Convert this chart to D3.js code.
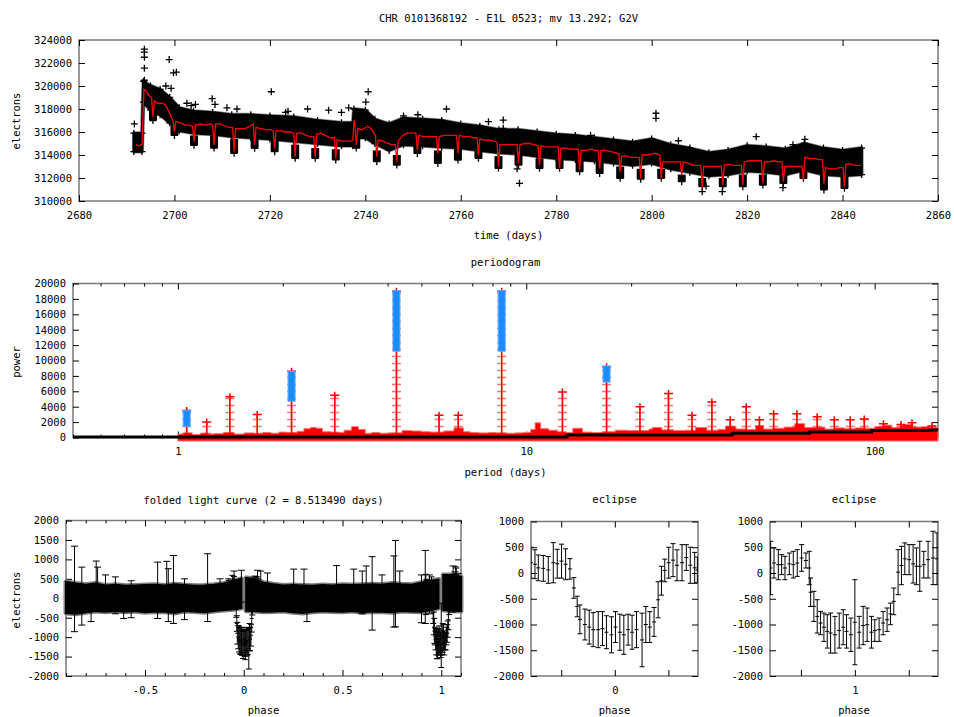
<!DOCTYPE html>
<html lang="en">
<head>
<meta charset="UTF-8">
<title>CHR 0101368192</title>
<script src="https://cdn.jsdelivr.net/npm/d3@7"></script>
<style>
  body { margin: 0; background: #fff; }
  svg text { font-family: "DejaVu Sans Mono", monospace; font-size: 10.5px; fill: #000; }
</style>
</head>
<body>
<svg id="viz" width="954" height="717"></svg>
<script>
// ---------- light curve (top) ----------
var lcTime = [2691.9,2692.5,2693.2,2693.6,2694.0,2694.6,2695.2,2695.5,2695.8,2696.5,2697.3,2698.0,2698.7,2699.3,2699.7,2700.0,2700.3,2701.2,2702.2,2703.1,2703.8,2704.1,2704.4,2705.5,2706.6,2707.5,2708.0,2708.3,2708.6,2709.6,2710.6,2711.5,2712.2,2712.5,2712.8,2713.8,2714.8,2715.8,2716.5,2716.8,2717.1,2718.1,2719.1,2720.1,2720.7,2721.0,2721.3,2722.3,2723.3,2724.3,2725.0,2725.3,2725.6,2726.6,2727.6,2728.5,2729.2,2729.5,2729.8,2730.6,2731.6,2732.6,2733.5,2733.8,2734.1,2735.1,2736.1,2737.0,2737.4,2737.6,2737.8,2738.1,2738.4,2739.3,2740.5,2741.2,2742.1,2742.4,2742.7,2743.7,2744.7,2745.6,2746.3,2746.6,2746.9,2747.8,2748.8,2749.8,2750.6,2750.9,2751.2,2752.2,2753.2,2754.2,2754.9,2755.2,2755.5,2756.5,2757.5,2758.5,2759.1,2759.4,2759.7,2760.7,2761.7,2762.7,2763.4,2763.7,2764.0,2765.0,2766.0,2767.0,2767.6,2767.9,2768.2,2769.2,2770.2,2771.2,2771.8,2772.1,2772.4,2773.4,2774.4,2775.4,2776.2,2776.5,2776.8,2777.8,2778.8,2779.8,2780.4,2780.7,2781.0,2782.0,2783.0,2784.0,2784.6,2784.9,2785.2,2786.2,2787.2,2788.2,2788.8,2789.1,2789.4,2790.4,2791.4,2792.4,2793.1,2793.4,2793.7,2794.7,2795.7,2796.7,2797.4,2797.7,2798.0,2799.0,2800.0,2800.7,2801.7,2802.0,2802.3,2803.3,2804.3,2805.3,2806.0,2806.3,2806.6,2807.6,2808.6,2809.6,2810.3,2810.6,2810.9,2811.9,2812.9,2813.9,2814.6,2814.9,2815.2,2816.2,2817.2,2818.2,2818.8,2819.1,2819.4,2820.4,2821.4,2822.4,2823.0,2823.3,2823.6,2824.6,2825.6,2826.6,2827.3,2827.6,2827.9,2828.9,2829.9,2830.9,2831.5,2831.8,2832.1,2833.1,2834.1,2835.1,2835.8,2836.1,2836.4,2837.4,2838.4,2839.4,2840.1,2840.4,2840.7,2841.7,2842.7,2843.8];
var lcTrend = [314900,314800,314900,319700,319600,319200,319000,317300,318700,318500,318500,318400,317900,317300,317000,316030,316900,316800,316600,316600,316500,315160,316600,316700,316600,316700,316600,314870,316700,316700,316500,316400,316400,314290,316300,316300,316300,316500,316700,314870,316400,316300,316200,316200,316100,314580,316100,316100,316000,316000,315900,313860,315900,315900,315700,315600,315600,313860,315800,315900,315700,315500,315500,313710,315300,315200,315200,315200,315300,317000,316800,314870,316300,316200,316500,316300,315700,313850,315300,315200,315000,314900,314900,313420,315200,315700,315900,315900,315900,314430,315700,315600,315600,315600,315600,314145,315600,315700,315700,315700,315700,314145,315700,315600,315600,315500,315500,314000,315400,315300,315300,315200,315100,312985,314900,314900,314900,314900,314900,313275,314900,315000,315000,314900,314800,313130,314800,314700,314700,314700,314700,312840,314600,314600,314500,314500,314500,312700,314400,314400,314500,314400,314400,312840,314400,314400,314300,314200,314100,312550,313900,313900,313800,313800,313800,311970,314000,314000,314100,314150,314000,311970,313400,313400,313400,313400,313400,312260,313400,313300,313100,313100,313100,311100,313000,313000,313000,313000,313000,311390,313100,313200,313100,313100,313100,311390,313400,313500,313500,313500,313500,311535,313400,313400,313500,313400,313400,311680,313000,313000,313000,313000,313000,311826,313800,313700,313700,313600,313600,311535,312900,312800,312800,312900,312900,311250,313200,313200,313100,313100];

var bandTime = [2691.5,2693.2,2693.5,2695,2697,2699,2701,2704,2708,2712,2716,2720,2725,2730,2735,2737.4,2737.6,2740,2742,2745,2748,2752,2756,2760,2764,2768,2772,2776,2780,2784,2788,2792,2796,2800,2804,2808,2812,2816,2820,2824,2828,2832,2836,2840,2844];
var bandTop  = [315900,315900,320400,320000,319700,319000,318100,317800,317700,317500,317500,317400,317300,317000,316800,316800,318000,317900,317100,316700,317200,317100,317000,316700,316500,316200,316200,316000,315800,315700,315500,315300,315100,315400,314900,314600,314200,314400,314800,314700,314500,315000,314600,314400,314600];
var bandBot  = [314300,314300,318600,317900,317500,316800,316100,315900,315800,315600,315500,315400,315200,315000,314800,314800,315500,315500,315000,314400,314900,314800,314700,314600,314400,314200,314100,313900,313700,313600,313500,313300,313100,313300,312800,312500,312200,312300,312600,312500,312300,312700,312300,312200,312300];

var dipTime = [2695.5,2700.0,2704.1,2708.3,2712.5,2716.8,2721.0,2725.3,2729.5,2733.8,2738.1,2742.4,2746.6,2750.9,2755.2,2759.4,2763.7,2767.9,2772.1,2776.5,2780.7,2784.9,2789.1,2793.4,2797.7,2802.0,2806.3,2810.6,2814.9,2819.1,2823.3,2827.6,2831.8,2836.1,2840.4];
var dipLow  = [317000,315700,314850,314600,314150,314580,314290,313710,313710,313570,314600,313420,313130,314140,313270,313560,313710,312840,313130,312840,312840,312550,312400,311970,311900,311970,311680,311250,311250,311250,311390,311535,311970,310960,311100];
var dipHigh = [317900,316500,315700,315700,315400,315600,315300,314900,314600,314500,315500,314400,314000,315000,314400,314600,314800,313900,314000,313700,313700,313500,313400,313000,312800,312800,312300,312000,312000,312300,312300,312600,312800,312400,312300];

var outTime = [2691.6,2693.7,2693.7,2693.7,2693.7,2693.7,2698.2,2698.9,2699.3,2699.8,2700.4,2702.6,2703.5,2704.4,2707.9,2708.5,2711.0,2713.1,2720.3,2723.3,2723.8,2727.9,2732.3,2735.0,2736.5,2740.1,2740.6,2748.0,2751.0,2757.0,2765.8,2768.9,2768.9,2771.8,2772.3,2787.2,2800.9,2800.9,2805.6,2810.6,2811.4,2814.8,2821.9,2827.5,2832.1,2829.6];
var outFlux = [316700,323200,322950,322500,321550,320500,320000,322300,319800,321150,321200,318500,318300,318400,318900,318400,318100,318000,319500,317700,317800,318000,317900,317700,318100,318600,319500,317400,317500,318000,316900,317040,316320,312800,311540,315700,317630,317190,315240,310810,311300,310810,315590,311160,315360,314900];

// ---------- periodogram (middle) ----------
var noisePeriod = [1.00,1.04,1.10,1.16,1.22,1.27,1.35,1.45,1.55,1.65,1.75,1.85,1.95,2.05,2.2,2.3,2.4,2.5,2.6,2.75,2.9,3.0,3.15,3.3,3.45,3.6,3.8,4.0,4.4,4.7,5.0,5.3,5.8,6.2,6.6,6.9,7.3,7.8,8.2,8.8,9.3,9.8,10.3,10.6,11.0,11.6,12.3,13.0,13.6,14.5,15.5,16.5,18,19.5,21,22.5,23,24.5,26.5,28.5,30.6,33,35.5,37.3,40,43,45.5,48,51,55,59,63,68,72,77,82,88,94,100,106,112,120,128,136,144,152];
var noisePower  = [450,600,400,550,450,500,650,450,600,500,650,550,700,650,800,1150,1300,1200,750,700,650,950,1400,1050,550,650,550,600,900,850,750,700,850,1250,750,650,600,650,600,550,600,650,1050,1900,1150,950,750,650,1200,700,650,750,950,900,900,1100,1300,1000,900,950,1300,950,1050,1450,1100,1050,1550,1100,1200,1350,1800,1300,1350,1100,1250,1150,1250,1200,1400,1600,1300,1700,1350,1400,1300,1350];

var peakPeriod = [1.06,1.21,1.41,1.69,2.12,2.82,4.24,5.62,6.38,8.50,12.7,17.0,21.2,25.6,29.9,34.1,38.5,42.8,46.7,51.3,59.8,68.4,76.6,85.1,93.4,106,119,128,146];
var peakPower  = [3500,2000,5300,3000,8600,5500,19000,2900,2900,19000,5900,9200,4000,5700,2900,4600,2300,4000,2300,3100,3100,2700,2300,2300,2400,1800,1700,1900,1500];

var bluePeriod = [1.06,2.12,4.24,8.50,17.0];
var blueLow    = [1450,4700,11200,11200,7200];
var blueHigh   = [3550,8600,19100,19100,9300];

var sigPeriod = [0.5,13.1,13.1,39,39,65,65,98,98,140,152];
var sigPower  = [60,60,330,330,550,550,700,700,900,900,1000];

// ---------- folded light curve (bottom left) ----------
var foldPhase = [-0.9,-0.85,-0.8,-0.75,-0.7,-0.65,-0.6,-0.55,-0.5,-0.45,-0.4,-0.35,-0.3,-0.25,-0.2,-0.15,-0.1,-0.05,-0.012,0,0.012,0.05,0.1,0.15,0.2,0.25,0.3,0.35,0.4,0.45,0.5,0.55,0.6,0.65,0.7,0.75,0.8,0.85,0.9,0.95,0.986,1,1.01,1.05,1.1];
var foldHigh  = [420,380,350,380,330,350,320,330,340,350,330,360,340,320,330,350,380,450,500,null,520,500,400,360,330,340,330,320,340,330,350,340,350,360,350,380,360,350,400,450,480,null,600,600,550];
var foldLow   = [-380,-400,-360,-330,-350,-330,-350,-330,-360,-340,-350,-380,-330,-340,-360,-330,-300,-280,-250,null,-320,-330,-350,-340,-330,-360,-380,-350,-330,-340,-350,-330,-360,-340,-350,-360,-330,-340,-350,-300,-250,null,-300,-320,-330];

var spikePhase = [-0.857,-0.82,-0.773,-0.747,-0.74,-0.70,-0.65,-0.608,-0.57,-0.436,-0.39,-0.382,-0.356,-0.30,-0.183,-0.12,-0.049,-0.012,0.07,0.086,0.12,0.253,0.305,0.32,0.47,0.557,0.60,0.62,0.65,0.70,0.76,0.768,0.79,0.90,0.919,0.94,1.06,1.07,1.088];
var spikeLow   = [-860,-690,-600,200,-100,-200,-400,-520,-500,-521,-200,-600,-650,-550,-600,-300,-150,-100,-200,-150,-300,-200,-150,-600,-100,-300,-400,-200,-820,-300,-740,-735,-300,-630,-650,-400,-300,-100,-150];
var spikeHigh  = [1340,800,300,957,800,600,550,300,450,930,950,760,1100,500,1145,500,700,720,720,700,650,750,750,300,840,750,700,830,1070,600,1090,1487,700,600,1230,600,830,680,640];

// ---------- eclipses (bottom middle / right) ----------
var ecl0Phase = [-0.0782,-0.0745,-0.0714,-0.0667,-0.0621,-0.0574,-0.0537,-0.0497,-0.0459,-0.0419,-0.0382,-0.0351,-0.0326,-0.0279,-0.0239,-0.0202,-0.0155,-0.0115,-0.0078,-0.0031,0.0006,0.0047,0.0084,0.0124,0.0161,0.0202,0.0254,0.0289,0.0326,0.0366,0.0404,0.0435,0.0466,0.0503,0.0543,0.0580,0.0627,0.0667,0.0704,0.0745,0.0770];
var ecl0Flux  = [200,170,100,90,60,200,180,230,170,80,-290,-650,-900,-1000,-1050,-1100,-1100,-1080,-1150,-1200,-1050,-1150,-1200,-1100,-1150,-1100,-1300,-1000,-1050,-950,-520,-150,50,200,250,150,200,300,150,100,60];
var ecl0Err   = [300,280,250,250,260,390,280,330,300,200,200,200,280,300,330,330,350,330,320,350,300,350,380,300,330,350,520,350,300,280,350,280,220,300,320,300,350,250,350,300,250];

var ecl1Phase = [0.9219,0.925,0.929,0.9321,0.9352,0.9392,0.9429,0.9466,0.9506,0.9546,0.9577,0.959,0.962,0.9651,0.9682,0.9713,0.9744,0.9775,0.9815,0.9855,0.9892,0.9923,0.9963,1.0,1.004,1.0077,1.0114,1.0154,1.0185,1.0225,1.0262,1.0299,1.033,1.0361,1.0401,1.0432,1.0463,1.0503,1.054,1.0571,1.0602,1.0639,1.0679,1.0725,1.0762];
var ecl1Flux  = [97,195,162,162,97,178,162,194,292,243,97,-373,-648,-842,-972,-1053,-1134,-1166,-1199,-1118,-1053,-1134,-1199,-956,-1150,-1020,-1004,-1150,-1118,-1101,-972,-907,-794,-551,16,146,276,259,178,130,130,162,259,292,276];
var ecl1Err   = [518,292,292,194,227,210,259,259,259,146,324,276,292,324,227,275,324,389,356,340,340,324,324,826,308,372,324,308,210,227,227,227,210,259,437,373,308,292,373,357,486,259,356,518,502];

// ---------- layout ----------
var TOP  = {l: 79, t: 40,    r: 938, b: 201};
var MID  = {l: 73, t: 283.5, r: 938, b: 437.5};
var FOLD = {l: 66, t: 520.5, r: 461, b: 676};
var EC0  = {l: 531, t: 521.5, r: 698, b: 676};
var EC1  = {l: 770, t: 521.5, r: 938, b: 676};

var svg = d3.select("#viz");
var plus = "M-3.5,0H3.5M0,-3.5V3.5";
var str = function(d) { return String(d); };

function frame(g, box, x, y, o) {
  g.append("rect")
    .attr("x", box.l).attr("y", box.t)
    .attr("width", box.r - box.l).attr("height", box.b - box.t)
    .attr("fill", "none").attr("stroke", "#7a7a7a").attr("stroke-width", 1.5);
  var ax = g.append("g");
  ax.append("g").attr("transform", "translate(0," + box.b + ")")
    .call(d3.axisBottom(x).tickValues(o.xMajor).tickSize(-6).tickPadding(10.5).tickFormat(o.xFmt || str));
  ax.append("g").attr("transform", "translate(0," + box.t + ")")
    .call(d3.axisTop(x).tickValues(o.xMajor).tickSize(-6).tickFormat(""));
  if (o.xMinor) {
    ax.append("g").attr("transform", "translate(0," + box.b + ")")
      .call(d3.axisBottom(x).tickValues(o.xMinor).tickSize(-3).tickFormat(""));
    ax.append("g").attr("transform", "translate(0," + box.t + ")")
      .call(d3.axisTop(x).tickValues(o.xMinor).tickSize(-3).tickFormat(""));
  }
  ax.append("g").attr("transform", "translate(" + box.l + ",0)")
    .call(d3.axisLeft(y).tickValues(o.yMajor).tickSize(-6).tickPadding(7).tickFormat(str));
  ax.append("g").attr("transform", "translate(" + box.r + ",0)")
    .call(d3.axisRight(y).tickValues(o.yMajor).tickSize(-6).tickFormat(""));
  ax.selectAll(".domain").remove();
  ax.selectAll("g").attr("font-family", null).attr("font-size", null);
}

function title(txt, x, y) {
  svg.append("text").attr("x", x).attr("y", y).attr("text-anchor", "middle").text(txt);
}
function ylabel(txt, x, y) {
  svg.append("text").attr("transform", "translate(" + x + "," + y + ") rotate(-90)")
    .attr("text-anchor", "middle").text(txt);
}

function clip(id, box) {
  svg.append("clipPath").attr("id", id).append("rect")
    .attr("x", box.l).attr("y", box.t).attr("width", box.r - box.l).attr("height", box.b - box.t);
}

function errorBars(g, x, y, rows, cap) {
  var eb = g.append("g").attr("stroke", "#000").attr("stroke-width", 1).attr("fill", "none");
  eb.selectAll("path").data(rows).enter().append("path")
    .attr("d", function(d) {
      var cx = x(d.p), y1 = y(d.hi), y0 = y(d.lo), y2 = y(d.v);
      var s = "M" + cx + "," + y1 + "V" + y0 +
              "M" + (cx - cap) + "," + y1 + "H" + (cx + cap) +
              "M" + (cx - cap) + "," + y0 + "H" + (cx + cap);
      if (d.v != null) s += "M" + (cx - 2) + "," + y2 + "H" + (cx + 2);
      return s;
    });
}

// ================= top: light curve =================
var xT = d3.scaleLinear().domain([2680, 2860]).range([TOP.l, TOP.r]);
var yT = d3.scaleLinear().domain([310000, 324000]).range([TOP.b, TOP.t]);
var gT = svg.append("g");
frame(gT, TOP, xT, yT, {xMajor: d3.range(2680, 2861, 20), yMajor: d3.range(310000, 324001, 2000)});

var bandRows = bandTime.map(function(t, i) { return {t: t, hi: bandTop[i], lo: bandBot[i]}; });
var bandArea = d3.area().x(function(d) { return xT(d.t); })
  .y0(function(d) { return yT(d.lo); }).y1(function(d) { return yT(d.hi); });
gT.append("path").datum(bandRows).attr("d", bandArea)
  .attr("fill", "#555").attr("stroke", "#8a8a8a").attr("stroke-width", 4).attr("stroke-linejoin", "round");
gT.append("path").datum(bandRows).attr("d", bandArea)
  .attr("fill", "#000").attr("stroke", "#000").attr("stroke-width", 2.5).attr("stroke-linejoin", "round");

var edgePts = [];
bandRows.forEach(function(d) { edgePts.push({t: d.t, v: d.hi}); edgePts.push({t: d.t, v: d.lo}); });
gT.append("g").selectAll("path").data(edgePts).enter().append("path")
  .attr("d", plus).attr("transform", function(d) { return "translate(" + xT(d.t) + "," + yT(d.v) + ")"; })
  .attr("stroke", "#000").attr("stroke-width", 1.3);

var dipRows = dipTime.map(function(t, i) { return {t: t, lo: dipLow[i], hi: dipHigh[i]}; });
var clumps = gT.append("g");
clumps.selectAll("rect").data(dipRows).enter().append("rect")
  .attr("x", function(d) { return xT(d.t) - 4; })
  .attr("y", function(d) { return yT(d.hi); })
  .attr("width", 8)
  .attr("height", function(d) { return yT(d.lo) - yT(d.hi); })
  .attr("fill", "#000");
clumps.selectAll("path").data(dipRows).enter().append("path")
  .attr("d", plus).attr("transform", function(d) { return "translate(" + xT(d.t) + "," + yT(d.lo) + ")"; })
  .attr("stroke", "#000").attr("stroke-width", 1.3);

gT.append("g").selectAll("path").data(outTime.map(function(t, i) { return {t: t, v: outFlux[i]}; }))
  .enter().append("path")
  .attr("d", plus).attr("transform", function(d) { return "translate(" + xT(d.t) + "," + yT(d.v) + ")"; })
  .attr("stroke", "#000").attr("stroke-width", 1.3);

var trendRows = lcTime.map(function(t, i) { return {t: t, v: lcTrend[i]}; });
gT.append("path").datum(trendRows)
  .attr("d", d3.line().x(function(d) { return xT(d.t); }).y(function(d) { return yT(d.v); }))
  .attr("fill", "none").attr("stroke", "#ff0000").attr("stroke-width", 1.3);

title("CHR 0101368192 - E1L 0523; mv 13.292; G2V", (TOP.l + TOP.r) / 2, 22);
title("time (days)", (TOP.l + TOP.r) / 2, 239);
ylabel("electrons", 19.5, 121);

// ================= middle: periodogram =================
var xM = d3.scaleLog().domain([0.5, 152]).range([MID.l, MID.r]);
var yM = d3.scaleLinear().domain([0, 20000]).range([MID.b, MID.t]);
var gM = svg.append("g");
var majorM = [1, 10, 100];
frame(gM, MID, xM, yM, {
  xMajor: majorM,
  xMinor: xM.ticks().filter(function(d) { return majorM.indexOf(d) < 0; }),
  yMajor: d3.range(0, 20001, 2000)
});

var noiseRows = noisePeriod.map(function(p, i) { return {p: p, v: noisePower[i]}; });
gM.append("path").datum(noiseRows)
  .attr("d", d3.area().curve(d3.curveStepAfter)
    .x(function(d) { return xM(d.p); })
    .y0(yM(0) + 3.5).y1(function(d) { return yM(d.v); }))
  .attr("fill", "#ff0000").attr("stroke", "#ff7070").attr("stroke-width", 1);

var peakRows = peakPeriod.map(function(p, i) { return {p: p, v: peakPower[i]}; });
var stacks = gM.append("g");
var stackPlus = "M-4.5,0H4.5M0,-3.5V3.5";
peakRows.forEach(function(d) {
  var cx = xM(d.p), top = yM(d.v);
  stacks.append("line").attr("x1", cx).attr("x2", cx).attr("y1", yM(0)).attr("y2", top)
    .attr("stroke", "#ff0000").attr("stroke-width", 1.5);
  for (var s = yM(0) - 4; s >= top; s -= 7) {
    stacks.append("path").attr("d", stackPlus)
      .attr("transform", "translate(" + cx + "," + s + ")")
      .attr("stroke", "#ff0000").attr("stroke-width", 1.5).attr("opacity", 0.55);
  }
  stacks.append("path").attr("d", stackPlus)
    .attr("transform", "translate(" + cx + "," + top + ")")
    .attr("stroke", "#ff0000").attr("stroke-width", 1.5);
});

var blueRows = bluePeriod.map(function(p, i) { return {p: p, lo: blueLow[i], hi: blueHigh[i]}; });
gM.append("g").selectAll("rect").data(blueRows).enter().append("rect")
  .attr("x", function(d) { return xM(d.p) - 3.5; })
  .attr("y", function(d) { return yM(d.hi); })
  .attr("width", 7)
  .attr("height", function(d) { return yM(d.lo) - yM(d.hi); })
  .attr("fill", "#1a8cff").attr("stroke", "#5aaaff").attr("stroke-width", 1);

var sigRows = sigPeriod.map(function(p, i) { return {p: p, v: sigPower[i]}; });
gM.append("path").datum(sigRows)
  .attr("d", d3.line().x(function(d) { return xM(d.p); }).y(function(d) { return yM(d.v); }))
  .attr("fill", "none").attr("stroke", "#000").attr("stroke-width", 3);

title("periodogram", (MID.l + MID.r) / 2, 266);
title("period (days)", (MID.l + MID.r) / 2, 476);
ylabel("power", 19.5, 362);

// ================= bottom left: folded light curve =================
var xF = d3.scaleLinear().domain([-0.9, 1.1]).range([FOLD.l, FOLD.r]);
var yF = d3.scaleLinear().domain([-2000, 2000]).range([FOLD.b, FOLD.t]);
var gF = svg.append("g");
var majorF = [-0.5, 0, 0.5, 1];
frame(gF, FOLD, xF, yF, {
  xMajor: majorF,
  xMinor: d3.range(-9, 12).map(function(i) { return i / 10; }).filter(function(d) { return d % 0.5 !== 0; }),
  yMajor: d3.range(-2000, 2001, 500)
});

var foldRows = foldPhase.map(function(p, i) { return {p: p, hi: foldHigh[i], lo: foldLow[i]}; });
var foldArea = d3.area().defined(function(d) { return d.hi != null; })
  .x(function(d) { return xF(d.p); })
  .y0(function(d) { return yF(d.lo); }).y1(function(d) { return yF(d.hi); });
gF.append("path").datum(foldRows).attr("d", foldArea)
  .attr("fill", "#444").attr("stroke", "#808080").attr("stroke-width", 5).attr("stroke-linejoin", "round");
gF.append("path").datum(foldRows).attr("d", foldArea)
  .attr("fill", "#000").attr("stroke", "#000").attr("stroke-width", 2);

function eclRows(P, V, E) {
  return P.map(function(p, i) { return {p: p, v: V[i], lo: V[i] - E[i], hi: V[i] + E[i]}; });
}
var rows0 = eclRows(ecl0Phase, ecl0Flux, ecl0Err);
var rows1 = eclRows(ecl1Phase, ecl1Flux, ecl1Err);
errorBars(gF, xF, yF, rows0, 3);
errorBars(gF, xF, yF, rows1, 3);
errorBars(gF, xF, yF, spikePhase.map(function(p, i) { return {p: p, v: null, lo: spikeLow[i], hi: spikeHigh[i]}; }), 3.5);

title("folded light curve (2 = 8.513490 days)", (FOLD.l + FOLD.r) / 2, 504);
title("phase", (FOLD.l + FOLD.r) / 2, 714);
ylabel("electrons", 19.5, 600);

// ================= eclipse panels =================
function eclipsePanel(box, dom, ticks, label, rows, id) {
  var x = d3.scaleLinear().domain(dom).range([box.l, box.r]);
  var y = d3.scaleLinear().domain([-2000, 1000]).range([box.b, box.t]);
  var g = svg.append("g");
  frame(g, box, x, y, {
    xMajor: ticks,
    xFmt: function(d) { return d === label ? String(label) : ""; },
    yMajor: d3.range(-2000, 1001, 500)
  });
  clip(id, box);
  var inner = g.append("g").attr("clip-path", "url(#" + id + ")");
  errorBars(inner, x, y, rows, 2.5);
  title("eclipse", (box.l + box.r) / 2, 503);
  title("phase", (box.l + box.r) / 2, 714);
}
eclipsePanel(EC0, [-0.0782, 0.0776], [-0.05, 0, 0.05], 0, rows0, "c0");
eclipsePanel(EC1, [0.9213, 1.0771], [0.95, 1, 1.05], 1, rows1, "c1");
</script>
</body>
</html>
